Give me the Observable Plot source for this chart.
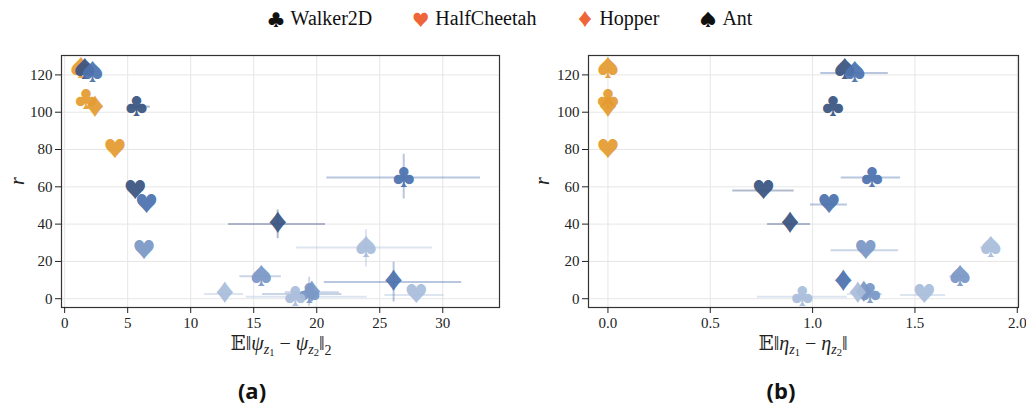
<!DOCTYPE html>
<html>
<head>
<meta charset="utf-8">
<script src="https://cdn.jsdelivr.net/npm/d3@7"></script>
<script src="https://cdn.jsdelivr.net/npm/@observablehq/plot@0.6"></script>
<style>
  html, body { margin: 0; padding: 0; background: #fff; }
  #wrap { position: relative; width: 1026px; height: 405px; overflow: hidden; }
  #legend { position: absolute; top: 6px; left: 0; width: 1020px; display: flex; justify-content: center; gap: 40px;
            font-family: "Liberation Serif", "DejaVu Serif", serif; font-size: 20px; color: #111; }
  #legend .item { display: flex; align-items: center; gap: 6px; }
  #legend .sym { font-family: "Noto Sans CJK JP", "DejaVu Sans", sans-serif; font-size: 17px; }
  .panel { position: absolute; top: 40px; }
  .xl { position: absolute; font-family: "Liberation Serif", "DejaVu Serif", serif; font-size: 20px; color: #222; transform: translate(-50%, -50%); white-space: nowrap; }
  .xl sub { font-size: 0.7em; vertical-align: -0.3em; }
  .xl sub sub { font-size: 0.75em; vertical-align: -0.2em; }
  .yl { position: absolute; font-family: "Liberation Serif", "DejaVu Serif", serif; font-style: italic; font-size: 20px; color: #222; transform: translate(-50%, -50%) rotate(-90deg); }
  .cap { position: absolute; font-family: "Open Sans", sans-serif; font-weight: 700; font-size: 22px; color: #111; transform: translate(-50%, -50%); }
</style>
</head>
<body>
<div id="wrap">
  <div id="legend"></div>
  <div class="panel" id="left" style="left:0px"></div>
  <div class="panel" id="right" style="left:513px"></div>
  <div class="yl" style="left:17px; top:181px">r</div>
  <div class="yl" style="left:542px; top:181px">r</div>
  <div class="xl" style="left:281px; top:345px">𝔼‖<i>ψ</i><sub><i>z</i><sub>1</sub></sub> − <i>ψ</i><sub><i>z</i><sub>2</sub></sub>‖<sub>2</sub></div>
  <div class="xl" style="left:803px; top:345px">𝔼‖<i>η</i><sub><i>z</i><sub>1</sub></sub> − <i>η</i><sub><i>z</i><sub>2</sub></sub>‖</div>
  <div class="cap" style="left:252px; top:390px">(a)</div>
  <div class="cap" style="left:781px; top:390px">(b)</div>
</div>
<script>
// ---- data ----
const envs = ["Walker2D", "HalfCheetah", "Hopper", "Ant"];
const suits = ["♣", "♥", "♦", "♠"];
const groups = [0, 1, 2, 3, 4];

// one entry per point: env index, group index
const pEnv   = [0, 1, 2, 3,   0, 1, 2, 3,   0, 1, 2, 3,   0, 1, 2, 3,   0, 1, 2, 3];
const pGroup = [0, 0, 0, 0,   1, 1, 1, 1,   2, 2, 2, 2,   3, 3, 3, 3,   4, 4, 4, 4];
const rVal   = [107, 80, 102.5, 123.5,   103, 58, 40, 123,   65, 50.5, 9, 121,   2.5, 26, 3.5, 12,   1, 2, 2.5, 27.5];
const rLo    = [null, null, null, null,  null, null, 32.2, null,  53.5, null, -1.8, null,  -4, null, null, null,  null, null, null, 17];
const rHi    = [null, null, null, null,  null, null, 47.6, null,  77.5, null, 19.6, null,  11.5, null, null, null,  null, null, null, 37];
const psiVal = [1.7, 4.0, 2.4, 1.3,   5.7, 5.6, 16.9, 1.6,   26.9, 6.5, 26.1, 2.2,   19.4, 6.3, 19.6, 15.6,   18.3, 27.9, 12.7, 23.9];
const psiLo  = [null, null, null, null,  5.2, null, 13.0, null,  20.8, null, 20.6, null,  15.7, null, 17.5, 13.9,  14.4, 25.4, 11.1, 18.4];
const psiHi  = [null, null, null, null,  6.8, null, 20.7, null,  33.0, null, 31.5, null,  22.0, null, 21.8, 17.2,  24.0, 30.1, 14.2, 29.2];
const etaVal = [0, 0, 0, 0,   1.10, 0.76, 0.89, 1.157,   1.29, 1.08, 1.15, 1.206,   1.28, 1.26, 1.25, 1.72,   0.95, 1.545, 1.22, 1.87];
const etaLo  = [null, null, null, null,  null, 0.61, 0.78, null,  1.14, 0.99, null, 1.04,  1.22, 1.09, null, 1.67,  0.73, 1.43, 1.17, 1.82];
const etaHi  = [null, null, null, null,  null, 0.91, 0.99, null,  1.43, 1.17, null, 1.37,  1.34, 1.42, null, 1.76,  1.17, 1.65, 1.28, 1.91];

const psiTicks = [0, 5, 10, 15, 20, 25, 30];
const etaTicks = [0, 0.5, 1.0, 1.5, 2.0];
const rTicks = [0, 20, 40, 60, 80, 100, 120];

// ---- styles ----
const palette = ["#e49c32", "#3b5682", "#4d73ae", "#7b98c6", "#a9bddb"];
const legendColors = ["#111", "#ee6637", "#ee6637", "#111"];

const rows = pEnv.map((e, i) => ({
  env: e, group: pGroup[i], r: rVal[i], rLo: rLo[i], rHi: rHi[i],
  psi: psiVal[i], psiLo: psiLo[i], psiHi: psiHi[i],
  eta: etaVal[i], etaLo: etaLo[i], etaHi: etaHi[i]
}));

// legend
const leg = document.getElementById("legend");
envs.forEach((name, i) => {
  const it = document.createElement("span");
  it.className = "item";
  it.innerHTML = `<span class="sym" style="color:${legendColors[i]}">${suits[i]}</span><span>${name}</span>`;
  leg.appendChild(it);
});

function panel({xKey, xLo, xHi, xDomain, xTicks, xFormat, marginLeft, marginRight}) {
  return Plot.plot({
    width: 513, height: 300,
    marginLeft, marginRight, marginTop: 15, marginBottom: 33,
    x: {domain: xDomain, label: null},
    y: {domain: [-4.7, 130.4], label: null},
    color: {type: "ordinal", domain: groups, range: palette},
    style: {fontFamily: "'Liberation Serif', 'DejaVu Serif', serif", fontSize: "15px", color: "#222", background: "transparent"},
    marks: [
      Plot.gridX(xTicks, {stroke: "#e6e6e6", strokeOpacity: 1}),
      Plot.gridY(rTicks, {stroke: "#e6e6e6", strokeOpacity: 1}),
      Plot.ruleY(rows.filter(d => d[xLo] != null), {y: "r", x1: xLo, x2: xHi, stroke: "group", strokeOpacity: 0.4, strokeWidth: 2}),
      xKey === "psi" ? Plot.ruleX(rows.filter(d => d.rLo != null), {x: xKey, y1: "rLo", y2: "rHi", stroke: "group", strokeOpacity: 0.4, strokeWidth: 2}) : null,
      Plot.text(rows, {x: xKey, y: "r", text: d => suits[d.env], fill: "group", fontSize: 23, fontFamily: "Noto Sans CJK JP", fillOpacity: 0.95, lineAnchor: "middle"}),
      Plot.frame({stroke: "#333", strokeWidth: 1.2}),
      Plot.axisX({ticks: xTicks, tickSize: 6, tickPadding: 4, tickFormat: xFormat, label: null}),
      Plot.axisY({ticks: rTicks, tickSize: 6, tickPadding: 3, label: null})
    ]
  });
}

document.getElementById("left").appendChild(panel({
  xKey: "psi", xLo: "psiLo", xHi: "psiHi", xDomain: [-0.25, 34.5], xTicks: psiTicks, xFormat: d3.format("d"),
  marginLeft: 61, marginRight: 14
}));
document.getElementById("right").appendChild(panel({
  xKey: "eta", xLo: "etaLo", xHi: "etaHi", xDomain: [-0.095, 2.006], xTicks: etaTicks, xFormat: d3.format(".1f"),
  marginLeft: 75, marginRight: 8
}));
</script>
</body>
</html>
